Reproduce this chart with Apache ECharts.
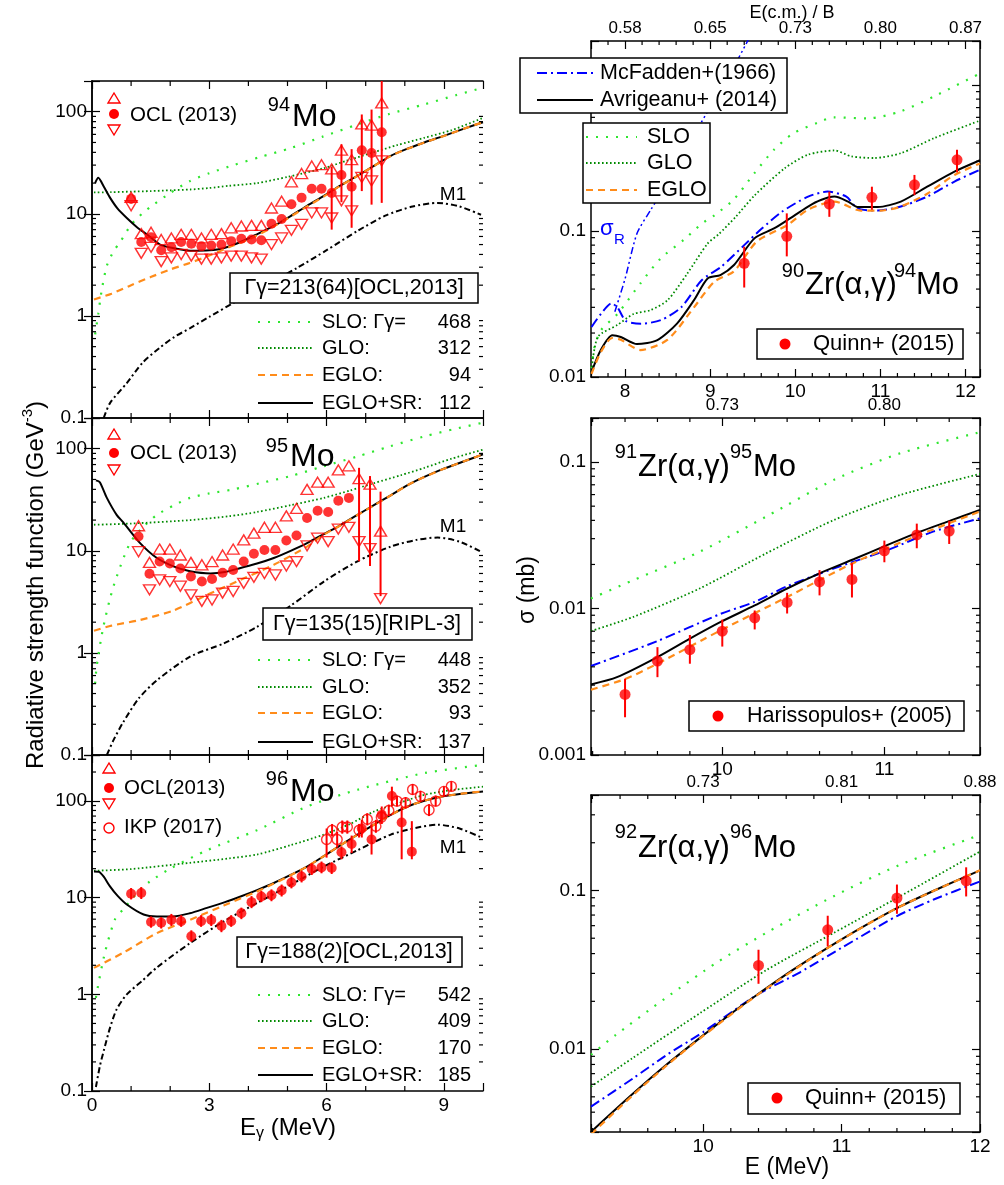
<!DOCTYPE html>
<html>
<head>
<meta charset="utf-8">
<script src="https://cdn.jsdelivr.net/npm/echarts/dist/echarts.min.js"></script>
<style>html,body{margin:0;padding:0;background:#fff}#main{width:1004px;height:1185px}</style>
</head>
<body>
<div id="main"></div>
<script>
var FONT = "'Liberation Sans', Arial, Helvetica, sans-serif";

// ---------------- left: radiative strength functions (GeV^-3) vs E_gamma ----------------
// 94Mo  OCL(2013): filled = central, up/dn = upper/lower triangles
var mo94E   = [1.00,1.26,1.51,1.77,2.03,2.28,2.54,2.80,3.05,3.31,3.56,3.82,4.08,4.33,4.59,4.85,5.10,5.36,5.62,5.87,6.13,6.38,6.64,6.90,7.15,7.41];
var mo94Ocl = [14.0,5.3,5.9,4.4,4.7,5.3,5.1,4.8,4.9,5.0,5.4,5.7,5.6,5.5,8.0,8.9,12.4,14.4,17.6,17.6,16.0,24,18.4,42,39.5,63];
var mo94Up  = [14.5,6.4,6.6,5.6,5.8,6.3,6.3,5.8,6.3,6.4,7.3,7.6,7.7,7.7,11.4,13.3,20.6,24.8,29.4,30.3,27.5,42,34,76,74,122];
var mo94Dn  = [12.0,4.1,4.7,3.4,3.7,4.0,3.85,3.6,3.6,3.7,3.85,3.85,3.7,3.6,5.0,5.8,6.9,7.9,10.2,10.2,9.1,13.4,10.7,22.7,21,33];
var mo94ErrE  = [6.13,6.38,6.64,6.90,7.15,7.41];
var mo94ErrLo = [7.0,13,7.3,16.7,12.3,12.8];
var mo94ErrHi = [29,48,43,94,105,200];
var mo94SLO = [[0.08,0.66],[0.16,1.05],[0.25,1.8],[0.38,3.1],[0.55,4.3],[0.72,5.3],[1.0,7.8],[1.3,10.2],[1.6,12.5],[2.0,16],[2.51,21],[3.0,25],[3.62,30],[4.3,36],[5.08,44],[5.9,57],[6.79,75],[7.6,95],[8.5,118],[9.3,145],[10,172]];
var mo94GLO = [[0.05,16.2],[0.5,16.3],[1.0,16.5],[1.5,16.7],[2.0,17],[2.51,17.3],[3.0,17.9],[3.5,18.8],[4.22,20],[5.0,23],[5.93,28],[6.5,33],[7.2,40],[7.8,47],[8.5,55.6],[9.2,66],[10,87]];
var mo94EGLO = [[0.05,1.45],[0.5,1.65],[1.0,2.0],[1.5,2.4],[2.0,2.85],[2.5,3.3],[3.0,3.9],[3.5,4.7],[4.0,5.6],[4.5,7.0],[5.0,9.0],[5.5,11.8],[5.93,14.8],[6.36,18.9],[6.79,23.5],[7.21,29.4],[7.64,36.9],[8.07,43.4],[8.5,49.9],[9.0,57.9],[9.5,67.9],[10,79]];
var mo94SR = [[0.08,20],[0.16,22.5],[0.3,18.5],[0.46,14.4],[0.65,11.3],[0.89,9.1],[1.15,7.4],[1.4,6.3],[1.74,5.0],[2.1,4.6],[2.51,4.36],[3.0,4.4],[3.36,4.6],[3.8,5.3],[4.22,6.3],[4.65,7.6],[5.08,9.5],[5.5,12],[5.93,15],[6.36,19],[6.79,23.6],[7.21,29.5],[7.64,37],[8.07,43.5],[8.5,50],[9.0,58],[9.5,68],[10,79]];
var mo94M1 = [[0.3,0.1],[0.46,0.14],[0.89,0.22],[1.3,0.35],[1.74,0.49],[2.1,0.62],[2.51,0.76],[3.0,0.98],[3.62,1.34],[4.4,1.95],[5.25,2.96],[6.0,4.4],[6.79,6.8],[7.5,9.6],[8.2,11.8],[8.84,12.8],[9.4,11.8],[9.95,9.8]];

// 95Mo  OCL(2013)
var mo95E   = [1.19,1.47,1.73,1.99,2.26,2.53,2.81,3.07,3.34,3.61,3.88,4.14,4.41,4.69,4.97,5.23,5.50,5.77,6.04,6.30,6.57,6.83,7.11,7.38];
var mo95Ocl = [13.8,5.96,7.85,7.5,6.7,5.6,5.0,5.3,6.1,6.5,7.85,9.35,10.2,10.2,12.6,14.1,21,24.7,24,31,33,null,null,null];
var mo95Up  = [17.6,7.7,10.4,10.4,9.1,7.7,7.3,7.85,9.1,10.4,12.8,14.9,17,17,22,26,40,47,47,62,68,51,45,15.6];
var mo95Dn  = [9.8,4.15,5.2,5.0,4.5,3.7,3.2,3.3,3.85,4.0,4.8,5.5,6.0,5.8,7.1,7.85,11.2,13.3,12.3,16.3,17,12.3,10.5,3.4];
var mo95ErrE  = [6.83,7.11,7.38];
var mo95ErrLo = [7.9,7.1,3.6];
var mo95ErrHi = [65,54,38];
var mo95SLO = [[0.08,0.5],[0.12,0.74],[0.29,1.8],[0.55,4.5],[0.97,11.9],[1.3,17],[1.66,22.5],[2.1,28],[2.51,33],[3.0,36.5],[3.62,40],[4.3,46],[5.08,54],[5.9,67],[6.79,84],[7.6,105],[8.5,132],[9.3,157],[10,180]];
var mo95GLO = [[0.05,18],[1.0,18.5],[2.51,20],[3.5,21.8],[4.22,24],[5.08,28],[5.93,33],[6.6,39],[7.21,46],[7.9,55],[8.5,65],[9.2,80],[10,98]];
var mo95EGLO = [[0.05,1.65],[0.5,1.85],[1.23,2.1],[2.08,2.6],[2.94,3.7],[3.8,5.2],[4.65,7.3],[5.5,11],[5.93,14.4],[6.36,17.8],[6.79,22.4],[7.21,27.9],[7.64,34.9],[8.07,43.9],[8.5,52.9],[8.92,61.9],[9.5,74.9],[10,88]];
var mo95SR = [[0.1,49],[0.2,47],[0.38,33],[0.63,22.5],[0.8,19],[1.23,11.9],[1.66,8.5],[2.1,7.0],[2.51,6.3],[3.03,6.0],[3.4,6.2],[3.8,6.8],[4.22,7.5],[4.65,8.5],[5.08,10],[5.5,11.9],[5.93,14.6],[6.36,17.9],[6.79,22.5],[7.21,28],[7.64,35],[8.07,44],[8.5,53],[8.92,62],[9.5,75],[10,88]];
var mo95M1 = [[0.38,0.1],[0.55,0.14],[0.8,0.21],[1.2,0.36],[1.66,0.54],[2.51,0.92],[3.37,1.24],[4.22,1.8],[5.08,2.9],[5.93,5.0],[6.79,7.9],[7.64,11],[8.3,12.8],[8.84,13.5],[9.4,12.3],[9.95,9.8]];

// 96Mo  OCL(2013) and IKP(2017)
var mo96E   = [1.00,1.26,1.51,1.77,2.03,2.28,2.54,2.79,3.05,3.31,3.56,3.82,4.08,4.33,4.59,4.85,5.10,5.36,5.62,5.87,6.13,6.38,6.64,6.90,7.15,7.41,7.67,7.92,8.18];
var mo96Ocl = [11.0,11.2,5.6,5.5,5.9,5.7,4.0,5.7,5.9,5.1,5.7,6.9,9.0,10.3,10.6,11.9,14.4,16.6,19.8,20.6,20.3,29.5,36,52,40,72,113,60,30];
var mo96Lo  = [9.6,9.7,4.9,4.8,5.1,5.0,3.5,5.0,5.1,4.4,5.0,6.0,7.8,9.0,9.2,10.3,12.5,14.4,17.2,17.9,17.6,25,29,42,28,58,88,25,25];
var mo96Hi  = [12.6,12.9,6.4,6.3,6.8,6.6,4.6,6.6,6.8,5.9,6.6,7.9,10.4,11.8,12.2,13.7,16.6,19.1,22.8,23.7,23.3,34,44,64,57,88,141,88,62];
var ikpE  = [6.00,6.14,6.27,6.40,6.53,6.83,7.04,7.26,7.40,7.59,7.80,8.02,8.20,8.40,8.62,8.79,9.00,9.19];
var ikpV  = [40,50,40,54,54,50,65,55,68,80,100,96,132,112,81,100,126,142];
var ikpLo = [26,43,33,46,46,42,56,47,58,70,88,84,116,98,70,88,112,126];
var ikpHi = [52,58,48,63,63,58,75,64,79,92,114,110,150,128,93,114,142,160];
var mo96SLO = [[0.1,0.92],[0.12,1.04],[0.33,2.7],[0.59,6.0],[0.8,7.6],[1.23,12.1],[1.49,14.8],[2.0,20],[2.94,31],[4.22,50],[5.5,88],[6.79,131],[8.5,195],[10,237]];
var mo96GLO = [[0.05,19],[1.0,19.8],[2.51,23],[3.5,25.5],[4.22,28],[5.08,35],[5.93,45],[6.6,58],[7.21,78],[7.9,97],[8.5,116],[9.2,130],[10,141]];
var mo96EGLO = [[0.05,1.88],[0.8,2.7],[1.66,4.3],[2.5,5.9],[3.37,8.3],[4.22,11.6],[4.65,14.0],[5.08,17.1],[5.5,21],[5.93,27],[6.36,35],[6.79,45],[7.21,57],[7.64,72],[8.07,88],[8.5,101],[8.92,111],[9.5,120],[10,126]];
var mo96SR = [[0.05,18.7],[0.18,18.5],[0.3,16.5],[0.46,13.1],[0.65,10.5],[0.89,8.5],[1.32,6.7],[1.66,6.4],[2.08,6.4],[2.5,6.9],[2.94,7.85],[3.4,9.0],[3.8,10.3],[4.22,12],[4.65,14.2],[5.08,17.2],[5.5,21],[5.93,27],[6.36,35],[6.79,45],[7.21,57],[7.64,72],[8.07,88],[8.5,101],[8.92,111],[9.5,120],[10,126]];
var mo96M1 = [[0.1,0.11],[0.2,0.18],[0.3,0.26],[0.46,0.45],[0.63,0.7],[0.89,1.0],[1.3,1.4],[1.66,1.9],[2.51,3.4],[3.37,5.7],[4.22,8.8],[5.08,13.6],[5.93,21],[6.79,31],[7.64,45],[8.3,53],[8.84,57],[9.4,52],[9.99,41.5]];

var gammaBox = ['\u0393\u03b3=213(64)[OCL,2013]', '\u0393\u03b3=135(15)[RIPL-3]', '\u0393\u03b3=188(2)[OCL,2013]'];
var gammaCalc = [[468,312,94,112],[448,352,93,137],[542,409,170,185]];

// ---------------- right: (alpha,gamma) cross sections (mb) vs E ----------------
var zr90SLO = [[7.606,0.0115],[7.64,0.016],[7.72,0.021],[7.91,0.027],[8.18,0.0437],[8.42,0.065],[8.69,0.087],[8.9,0.112],[9.05,0.128],[9.28,0.165],[9.52,0.249],[9.75,0.36],[9.98,0.468],[10.26,0.55],[10.45,0.60],[10.85,0.59],[11.24,0.66],[11.63,0.835],[12.17,1.2]];
var zr90GLO = [[7.606,0.011],[7.68,0.0188],[7.91,0.0227],[8.1,0.027],[8.3,0.0287],[8.5,0.0336],[8.73,0.051],[8.97,0.082],[9.1,0.095],[9.3,0.125],[9.52,0.175],[9.88,0.27],[10.15,0.333],[10.46,0.356],[10.66,0.324],[10.93,0.316],[11.24,0.341],[11.63,0.432],[12.17,0.57]];
var zr90McF = [[7.606,0.022],[7.72,0.0272],[7.84,0.0319],[7.91,0.030],[8.01,0.0242],[8.19,0.0232],[8.42,0.0245],[8.66,0.030],[8.9,0.046],[9.13,0.0569],[9.4,0.08],[9.6,0.103],[9.84,0.135],[10.15,0.172],[10.38,0.186],[10.6,0.172],[10.73,0.143],[10.97,0.138],[11.24,0.147],[11.55,0.172],[11.87,0.218],[12.17,0.263]];
var zr90SigR = [[7.88,0.028],[8.0,0.047],[8.14,0.096],[8.3,0.139],[8.5,0.215],[8.9,0.56],[9.2,1.1],[9.45,2.05]];
var zr90Avr = [[7.606,0.0108],[7.715,0.0153],[7.85,0.0193],[7.95,0.0188],[8.14,0.0168],[8.38,0.0179],[8.61,0.0232],[8.81,0.0336],[8.97,0.0473],[9.12,0.0499],[9.28,0.0585],[9.52,0.089],[9.75,0.104],[9.91,0.119],[10.15,0.147],[10.3,0.163],[10.46,0.172],[10.62,0.159],[10.73,0.146],[10.97,0.146],[11.24,0.159],[11.55,0.201],[11.87,0.255],[12.17,0.305]];
var zr90EGLO = [[7.606,0.0105],[7.715,0.0148],[7.85,0.0185],[7.95,0.018],[8.18,0.0153],[8.5,0.018],[8.81,0.030],[9.05,0.045],[9.28,0.053],[9.55,0.085],[9.91,0.110],[10.15,0.14],[10.46,0.159],[10.77,0.138],[11.0,0.138],[11.24,0.147],[11.55,0.18],[11.87,0.242],[12.17,0.29]];
var quinn94E  = [9.4,9.9,10.4,10.9,11.4,11.9];
var quinn94V  = [0.060,0.092,0.153,0.170,0.207,0.307];
var quinn94Lo = [0.041,0.067,0.125,0.140,0.176,0.252];
var quinn94Hi = [0.078,0.132,0.186,0.201,0.242,0.360];

var zr91SLO = [[9.19,0.0117],[9.45,0.0156],[9.86,0.0244],[10.27,0.0424],[10.69,0.0757],[11.1,0.115],[11.59,0.16]];
var zr91GLO = [[9.19,0.00703],[9.45,0.00876],[9.86,0.0137],[10.27,0.0238],[10.69,0.0403],[11.1,0.0597],[11.59,0.083]];
var zr91McF = [[9.19,0.00405],[9.6,0.006],[9.99,0.0092],[10.2,0.0111],[10.4,0.0142],[10.69,0.0188],[11.02,0.0251],[11.3,0.0335],[11.59,0.0413]];
var zr91Avr = [[9.19,0.00303],[9.35,0.0034],[9.6,0.00466],[9.8,0.00623],[9.99,0.0081],[10.2,0.0105],[10.4,0.0137],[10.6,0.0174],[10.81,0.0217],[11.02,0.0272],[11.22,0.0335],[11.39,0.0392],[11.59,0.0472]];
var zr91EGLO = [[9.19,0.00279],[9.4,0.0033],[9.6,0.0042],[9.99,0.0071],[10.4,0.012],[10.81,0.0205],[11.22,0.032],[11.59,0.046]];
var hariE  = [9.4,9.6,9.8,10.0,10.2,10.4,10.6,10.8,11.0,11.2,11.4];
var hariV  = [0.00259,0.00438,0.00524,0.0070,0.00863,0.0110,0.0152,0.0158,0.0248,0.0318,0.0338];
var hariLo = [0.00181,0.0034,0.0042,0.0055,0.0072,0.00925,0.0123,0.0119,0.0207,0.0258,0.0276];
var hariHi = [0.00332,0.00545,0.0066,0.0084,0.0097,0.0128,0.0183,0.0204,0.0291,0.038,0.0398];

var zr92SLO = [[9.19,0.0092],[9.37,0.0123],[9.73,0.021],[10.1,0.0352],[10.46,0.0543],[10.94,0.0917],[11.42,0.145],[12.0,0.224]];
var zr92GLO = [[9.19,0.0058],[9.49,0.00877],[9.98,0.0169],[10.46,0.0316],[10.94,0.0538],[11.42,0.0917],[12.0,0.176]];
var zr92McF = [[9.19,0.00434],[9.49,0.0065],[9.73,0.0091],[10.0,0.0128],[10.39,0.022],[10.7,0.0305],[11.0,0.0435],[11.4,0.069],[11.67,0.088],[12.0,0.114]];
var zr92Avr = [[9.19,0.003],[9.49,0.0052],[9.73,0.0079],[10.0,0.0122],[10.22,0.0172],[10.39,0.022],[10.64,0.0312],[10.89,0.043],[11.15,0.0588],[11.4,0.0775],[11.67,0.1],[12.0,0.134]];
var zr92EGLO = [[9.19,0.0029],[9.49,0.0051],[9.73,0.0078],[10.0,0.0121],[10.39,0.0219],[10.89,0.0429],[11.4,0.0774],[12.0,0.134]];
var quinn96E  = [10.4,10.9,11.4,11.9];
var quinn96V  = [0.0337,0.0565,0.0895,0.115];
var quinn96Lo = [0.0258,0.0444,0.0713,0.0917];
var quinn96Hi = [0.0423,0.0693,0.109,0.14];

// top axis: E(c.m.)/B labels
var topLabels = [null, null, null,
  {8: '0.58', 9: '0.65', 10: '0.73', 11: '0.80', 12: '0.87'},
  {10: '0.73', 11: '0.80'},
  {10: '0.73', 11: '0.81', 12: '0.88'}];

// ---------------- layout ----------------
var grids = [
  {left: 92, top: 81, width: 391, height: 337},
  {left: 92, top: 418, width: 391, height: 337},
  {left: 92, top: 755, width: 391, height: 336},
  {left: 591, top: 41, width: 389, height: 336},
  {left: 591, top: 418, width: 389, height: 337},
  {left: 591, top: 795, width: 389, height: 337}
];
var xRange = [[0, 10], [0, 10], [0, 10], [7.6, 12.17], [9.19, 11.59], [9.19, 12]];
var yRange = [[0.1, 200], [0.1, 200], [0.1, 300], [0.01, 2], [0.001, 0.2], [0.003, 0.4]];

var ST = {
  slo:  {color: '#2fe62f', width: 2.2, type: [2, 8]},
  glo:  {color: '#008a00', width: 1.8, type: [1.6, 2.4]},
  eglo: {color: '#ff8c1a', width: 2.2, type: [7, 5]},
  sr:   {color: '#000000', width: 2},
  m1:   {color: '#000000', width: 2, type: [6, 3, 2, 3]},
  mcf:  {color: '#0000ff', width: 2, type: [10, 4, 2, 4]},
  sigR: {color: '#0000ff', width: 1.5, type: [7, 3, 2, 3, 2, 3]}
};

function isInt(v) { return Math.abs(v - Math.round(v)) < 1e-6; }
function isDecade(v) { var l = Math.log10(v); return Math.abs(l - Math.round(l)) < 1e-6; }

var axisLine = {lineStyle: {color: '#000', width: 1.5}};
var tickMajor = {inside: true, length: 8, lineStyle: {color: '#000', width: 1.2}};
var lab = {color: '#000', fontFamily: FONT, fontSize: 19};

var xAxis = [], yAxis = [];
grids.forEach(function (g, i) {
  var left = i < 3;
  var base = {type: 'value', gridIndex: i, min: xRange[i][0], max: xRange[i][1],
    axisLine: axisLine, axisTick: tickMajor, splitLine: {show: false}};
  if (left) base.interval = 3; else base.splitNumber = (i === 3 ? 5 : (i === 4 ? 2 : 3));
  xAxis.push(Object.assign({}, base, {position: 'bottom',
    axisLabel: Object.assign({}, lab, {show: i === 2 || !left, margin: 5,
      formatter: left ? function (v) { return (isInt(v) && Math.round(v) % 3 === 0 && v < 10) ? String(Math.round(v)) : ''; }
                      : function (v) { return isInt(v) ? String(Math.round(v)) : ''; }})}));
  xAxis.push(Object.assign({}, base, {position: 'top',
    axisLabel: Object.assign({}, lab, {show: !left, fontSize: 17, margin: 4,
      formatter: function (v) { return (isInt(v) && topLabels[i]) ? (topLabels[i][Math.round(v)] || '') : ''; }})}));
  var yb = {type: 'log', logBase: 10, gridIndex: i, min: yRange[i][0], max: yRange[i][1],
    axisLine: axisLine, axisTick: tickMajor, splitLine: {show: false}};
  yAxis.push(Object.assign({}, yb, {position: 'left',
    axisLabel: Object.assign({}, lab, {margin: 5,
      formatter: function (v) { return isDecade(v) ? String(+v.toPrecision(1)) : ''; }})}));
  yAxis.push(Object.assign({}, yb, {position: 'right', axisLabel: {show: false}}));
});

var series = [];
function addLine(g, data, st) {
  series.push({type: 'line', xAxisIndex: 2 * g, yAxisIndex: 2 * g, data: data, symbol: 'none',
    smooth: 0.25, silent: true, z: 2, animation: false,
    lineStyle: {color: st.color, width: st.width, type: st.type || 'solid'}});
}
var SYM = {
  dot:  {symbol: 'circle', symbolSize: 10, itemStyle: {color: '#ff0000'}},
  dotR: {symbol: 'circle', symbolSize: 11, itemStyle: {color: '#ff0000'}},
  up:   {symbol: 'triangle', symbolSize: [12, 10], itemStyle: {color: 'rgba(255,255,255,0)', borderColor: '#ff0000', borderWidth: 1.4}},
  dn:   {symbol: 'triangle', symbolSize: [12, 10], symbolRotate: 180, itemStyle: {color: 'rgba(255,255,255,0)', borderColor: '#ff0000', borderWidth: 1.4}},
  ring: {symbol: 'circle', symbolSize: 10, itemStyle: {color: 'rgba(255,255,255,0)', borderColor: '#ff0000', borderWidth: 1.4}}
};
function addPts(g, E, V, sym) {
  var data = [];
  E.forEach(function (e, i) { if (V[i] != null) data.push([e, V[i]]); });
  series.push(Object.assign({type: 'scatter', xAxisIndex: 2 * g, yAxisIndex: 2 * g, data: data,
    silent: true, z: 4, animation: false}, sym));
}
function addErr(g, E, lo, hi) {
  series.push({type: 'custom', xAxisIndex: 2 * g, yAxisIndex: 2 * g, silent: true, z: 3, clip: true, animation: false,
    data: E.map(function (e, i) { return [e, lo[i], hi[i]]; }),
    renderItem: function (p, api) {
      var a = api.coord([api.value(0), api.value(1)]);
      var b = api.coord([api.value(0), api.value(2)]);
      return {type: 'line', shape: {x1: a[0], y1: a[1], x2: b[0], y2: b[1]}, style: {stroke: '#ff0000', lineWidth: 2}};
    }});
}
// minor ticks on all four sides, placed through the axes' own scales
function addTicks(g, vals, dir, len) {
  series.push({type: 'custom', xAxisIndex: 2 * g, yAxisIndex: 2 * g, silent: true, z: 6, animation: false,
    data: vals.map(function (v) { return dir === 'y' ? [xRange[g][0], v] : [v, yRange[g][0]]; }),
    renderItem: function (p, api) {
      var cs = p.coordSys;
      var pt = api.coord([api.value(0), api.value(1)]);
      var st = {stroke: '#000', lineWidth: 1.2};
      if (dir === 'y') return {type: 'group', children: [
        {type: 'line', shape: {x1: cs.x, y1: pt[1], x2: cs.x + len, y2: pt[1]}, style: st},
        {type: 'line', shape: {x1: cs.x + cs.width - len, y1: pt[1], x2: cs.x + cs.width, y2: pt[1]}, style: st}]};
      return {type: 'group', children: [
        {type: 'line', shape: {x1: pt[0], y1: cs.y + cs.height, x2: pt[0], y2: cs.y + cs.height - len}, style: st},
        {type: 'line', shape: {x1: pt[0], y1: cs.y, x2: pt[0], y2: cs.y + len}, style: st}]};
    }});
}
function logMinor(min, max) {
  var out = [];
  for (var d = Math.floor(Math.log10(min)); d <= Math.ceil(Math.log10(max)); d++)
    for (var k = 2; k <= 9; k++) {
      var v = +(k * Math.pow(10, d)).toPrecision(3);
      if (v > min * 1.0001 && v < max * 0.9999) out.push(v);
    }
  return out;
}
function linMinor(min, max, step, major) {
  var out = [];
  for (var n = Math.ceil(min / step - 1e-9); n * step < max - 1e-9; n++) {
    var r = +(n * step).toFixed(4);
    if (r > min + 1e-9 && !isInt(r / major)) out.push(r);
  }
  return out;
}

// left panels
var sfSets = [
  {slo: mo94SLO, glo: mo94GLO, eglo: mo94EGLO, sr: mo94SR, m1: mo94M1},
  {slo: mo95SLO, glo: mo95GLO, eglo: mo95EGLO, sr: mo95SR, m1: mo95M1},
  {slo: mo96SLO, glo: mo96GLO, eglo: mo96EGLO, sr: mo96SR, m1: mo96M1}
];
sfSets.forEach(function (s, g) {
  addLine(g, s.slo, ST.slo);
  addLine(g, s.glo, ST.glo);
  addLine(g, s.m1, ST.m1);
  addLine(g, s.sr, ST.sr);
  addLine(g, s.eglo, ST.eglo);
});
addErr(0, mo94ErrE, mo94ErrLo, mo94ErrHi);
addPts(0, mo94E, mo94Up, SYM.up);
addPts(0, mo94E, mo94Dn, SYM.dn);
addPts(0, mo94E, mo94Ocl, SYM.dot);
addErr(1, mo95ErrE, mo95ErrLo, mo95ErrHi);
addPts(1, mo95E, mo95Up, SYM.up);
addPts(1, mo95E, mo95Dn, SYM.dn);
addPts(1, mo95E, mo95Ocl, SYM.dot);
addErr(2, ikpE, ikpLo, ikpHi);
addPts(2, ikpE, ikpV, SYM.ring);
addErr(2, mo96E, mo96Lo, mo96Hi);
addPts(2, mo96E, mo96Ocl, SYM.dot);

// right panels
addLine(3, zr90SLO, ST.slo); addLine(3, zr90GLO, ST.glo); addLine(3, zr90SigR, ST.sigR);
addLine(3, zr90McF, ST.mcf); addLine(3, zr90Avr, ST.sr); addLine(3, zr90EGLO, ST.eglo);
addErr(3, quinn94E, quinn94Lo, quinn94Hi); addPts(3, quinn94E, quinn94V, SYM.dotR);
addLine(4, zr91SLO, ST.slo); addLine(4, zr91GLO, ST.glo);
addLine(4, zr91McF, ST.mcf); addLine(4, zr91Avr, ST.sr); addLine(4, zr91EGLO, ST.eglo);
addErr(4, hariE, hariLo, hariHi); addPts(4, hariE, hariV, SYM.dotR);
addLine(5, zr92SLO, ST.slo); addLine(5, zr92GLO, ST.glo);
addLine(5, zr92McF, ST.mcf); addLine(5, zr92Avr, ST.sr); addLine(5, zr92EGLO, ST.eglo);
addErr(5, quinn96E, quinn96Lo, quinn96Hi); addPts(5, quinn96E, quinn96V, SYM.dotR);

for (var g = 0; g < 6; g++) {
  addTicks(g, logMinor(yRange[g][0], yRange[g][1]), 'y', 4);
  addTicks(g, g < 3 ? linMinor(0, 10, 1, 3) : linMinor(xRange[g][0], xRange[g][1], 0.2, 1), 'x', g < 3 ? 5 : 4);
}

// ---------------- annotations & legends ----------------
var G = [];
function txt(x, y, s, size, opt) {
  G.push({type: 'text', x: x, y: y, z: 101, silent: true,
    style: Object.assign({text: s, fill: '#000', font: size + 'px ' + FONT, align: 'left', verticalAlign: 'middle'}, opt || {})});
}
function seg(x1, x2, y, st) {
  G.push({type: 'line', z: 101, silent: true, shape: {x1: x1, y1: y, x2: x2, y2: y},
    style: {stroke: st.color, lineWidth: st.width, lineDash: st.type || null}});
}
function box(x, y, w, h) {
  G.push({type: 'rect', z: 100, silent: true, shape: {x: x, y: y, width: w, height: h},
    style: {fill: '#fff', stroke: '#000', lineWidth: 1.5}});
}
function dotG(x, y, r) { G.push({type: 'circle', z: 101, silent: true, shape: {cx: x, cy: y, r: r}, style: {fill: '#ff0000'}}); }
function ringG(x, y) { G.push({type: 'circle', z: 101, silent: true, shape: {cx: x, cy: y, r: 5}, style: {fill: 'none', stroke: '#ff0000', lineWidth: 1.4}}); }
function triG(x, y, down) {
  var pts = down ? [[x - 6, y - 5], [x + 6, y - 5], [x, y + 5]] : [[x, y - 5], [x + 6, y + 5], [x - 6, y + 5]];
  G.push({type: 'polygon', z: 101, silent: true, shape: {points: pts}, style: {fill: 'none', stroke: '#ff0000', lineWidth: 1.4}});
}
function calcLegend(rows, nums) {
  var names = ['SLO: \u0393\u03b3=', 'GLO:', 'EGLO:', 'EGLO+SR:'];
  var sts = [ST.slo, ST.glo, ST.eglo, ST.sr];
  rows.forEach(function (y, k) {
    seg(258, 313, y, sts[k]);
    txt(322, y, names[k], 20);
    txt(471, y, String(nums[k]), 20, {align: 'right'});
  });
}

// 94Mo
triG(114, 98, false); dotG(114, 114, 5); triG(114, 130, true);
txt(130, 115, 'OCL (2013)', 20.5);
txt(290, 105, '94', 20, {align: 'right'}); txt(292, 117, 'Mo', 32);
txt(453, 195, 'M1', 19, {align: 'center'});
box(230, 273, 248, 30); txt(354, 288, gammaBox[0], 21.5, {align: 'center'});
calcLegend([322, 348, 375, 403], gammaCalc[0]);
// 95Mo
triG(114, 434, false); dotG(114, 453, 5); triG(114, 470, true);
txt(130, 453, 'OCL (2013)', 20.5);
txt(288, 446, '95', 20, {align: 'right'}); txt(290, 457, 'Mo', 32);
txt(453, 527, 'M1', 19, {align: 'center'});
box(263, 608, 209, 32); txt(367, 624, gammaBox[1], 21.5, {align: 'center'});
calcLegend([660, 687, 713, 742], gammaCalc[1]);
// 96Mo
triG(109, 768, false); dotG(109, 788, 5); triG(109, 804, true); ringG(109, 828);
txt(124, 788, 'OCL(2013)', 20.5);
txt(124, 827, 'IKP (2017)', 20.5);
txt(288, 779, '96', 20, {align: 'right'}); txt(290, 792, 'Mo', 32);
txt(453, 848, 'M1', 19, {align: 'center'});
box(237, 937, 225, 30); txt(349, 952, gammaBox[2], 21.5, {align: 'center'});
calcLegend([995, 1021, 1048, 1075], gammaCalc[2]);

// 90Zr(a,g)94Mo
box(520, 58, 267, 55);
seg(537, 593, 73, ST.mcf); txt(600, 73, 'McFadden+(1966)', 21.5);
seg(537, 593, 100, ST.sr); txt(600, 100, 'Avrigeanu+ (2014)', 21.5);
box(583, 123, 127, 80);
seg(586, 637, 137, ST.slo); txt(647, 137, 'SLO', 21.5);
seg(586, 637, 163, ST.glo); txt(647, 163, 'GLO', 21.5);
seg(586, 637, 190, ST.eglo); txt(647, 190, 'EGLO', 21.5);
txt(600, 229, '\u03c3', 22, {fill: '#0000ff'}); txt(614, 240, 'R', 15, {fill: '#0000ff'});
txt(804, 271, '90', 20, {align: 'right'}); txt(805, 285, 'Zr(\u03b1,\u03b3)', 31);
txt(894, 271, '94', 20); txt(916, 285, 'Mo', 31);
box(757, 329, 206, 30); dotG(785, 344, 5.5); txt(813, 344, 'Quinn+ (2015)', 22);
txt(792, 13, 'E(c.m.) / B', 18, {align: 'center'});
// 91Zr(a,g)95Mo
txt(637, 452, '91', 20, {align: 'right'}); txt(638, 467, 'Zr(\u03b1,\u03b3)', 31);
txt(730, 452, '95', 20); txt(753, 467, 'Mo', 31);
box(689, 701, 275, 30); dotG(718, 716, 5.5); txt(747, 716, 'Harissopulos+ (2005)', 21.5);
// 92Zr(a,g)96Mo
txt(637, 832, '92', 20, {align: 'right'}); txt(638, 848, 'Zr(\u03b1,\u03b3)', 31);
txt(730, 832, '96', 20); txt(753, 848, 'Mo', 31);
box(748, 1083, 212, 31); dotG(777, 1098, 5.5); txt(805, 1098, 'Quinn+ (2015)', 22);

// axis titles
G.push({type: 'text', x: 36, y: 585, rotation: Math.PI / 2, z: 101, silent: true,
  style: {text: '{n|Radiative strength function (GeV}{s|-3}{n|)}', fill: '#000', align: 'center', verticalAlign: 'middle',
    rich: {n: {fontSize: 24, fontFamily: FONT, lineHeight: 32}, s: {fontSize: 15, fontFamily: FONT, lineHeight: 16, verticalAlign: 'top'}}}});
G.push({type: 'text', x: 288, y: 1128, z: 101, silent: true,
  style: {text: '{n|E}{s|\u03b3}{n| (MeV)}', fill: '#000', align: 'center', verticalAlign: 'middle',
    rich: {n: {fontSize: 24, fontFamily: FONT, lineHeight: 28}, s: {fontSize: 16, fontFamily: FONT, lineHeight: 16, verticalAlign: 'bottom'}}}});
G.push({type: 'text', x: 528, y: 590, rotation: Math.PI / 2, z: 101, silent: true,
  style: {text: '\u03c3 (mb)', fill: '#000', font: '23px ' + FONT, align: 'center', verticalAlign: 'middle'}});
txt(787, 1168, 'E (MeV)', 23, {align: 'center'});

var chart = echarts.init(document.getElementById('main'), null, {renderer: 'canvas'});
chart.setOption({
  animation: false,
  backgroundColor: '#fff',
  grid: grids,
  xAxis: xAxis,
  yAxis: yAxis,
  series: series,
  graphic: {elements: G}
});
</script>
</body>
</html>
